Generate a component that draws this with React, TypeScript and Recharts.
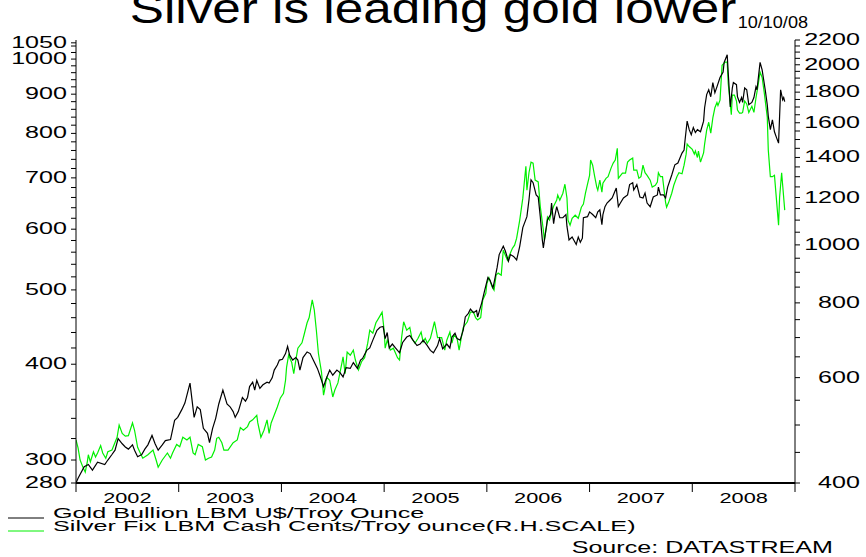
import { LineChart, Line, XAxis, YAxis } from "recharts";

// weekly-ish readings: [decimal year, value]
const goldFix: [number, number][] = [
  [2002.00,280],[2002.02,284],[2002.08,294],[2002.12,296],[2002.16,291],[2002.21,298],[2002.28,296],[2002.31,300],
  [2002.35,305],[2002.38,309],[2002.41,320],[2002.45,315],[2002.48,312],[2002.51,310],[2002.55,314],[2002.57,309],
  [2002.60,303],[2002.64,305],[2002.67,310],[2002.70,314],[2002.74,323],[2002.77,315],[2002.80,309],[2002.84,314],
  [2002.87,318],[2002.92,319],[2002.96,338],[2002.99,341],[2003.03,349],[2003.06,356],[2003.11,378],[2003.15,341],
  [2003.18,352],[2003.21,349],[2003.24,330],[2003.28,325],[2003.30,316],[2003.33,330],[2003.36,340],[2003.39,355],
  [2003.43,370],[2003.47,355],[2003.50,352],[2003.53,347],[2003.55,341],[2003.58,347],[2003.62,362],[2003.65,358],
  [2003.67,362],[2003.69,374],[2003.72,379],[2003.74,370],[2003.76,381],[2003.79,372],[2003.82,376],[2003.86,379],
  [2003.88,378],[2003.91,384],[2003.93,393],[2003.96,399],[2003.98,405],[2004.01,406],[2004.04,413],[2004.06,422],
  [2004.08,411],[2004.11,405],[2004.14,408],[2004.16,405],[2004.18,393],[2004.21,408],[2004.25,415],[2004.28,413],
  [2004.31,405],[2004.35,395],[2004.38,385],[2004.41,374],[2004.43,381],[2004.45,387],[2004.47,393],[2004.50,387],
  [2004.54,393],[2004.57,390],[2004.60,385],[2004.63,396],[2004.67,395],[2004.70,402],[2004.74,395],[2004.77,405],
  [2004.79,407],[2004.83,417],[2004.86,420],[2004.89,430],[2004.93,443],[2004.96,447],[2004.99,448],[2005.01,432],
  [2005.03,440],[2005.05,420],[2005.08,425],[2005.11,420],[2005.15,414],[2005.18,427],[2005.22,434],[2005.25,436],
  [2005.28,430],[2005.32,423],[2005.35,425],[2005.38,430],[2005.42,423],[2005.45,417],[2005.48,414],[2005.52,423],
  [2005.54,432],[2005.57,419],[2005.61,425],[2005.64,420],[2005.66,434],[2005.69,439],[2005.71,432],[2005.74,430],
  [2005.77,443],[2005.79,461],[2005.82,466],[2005.84,472],[2005.87,467],[2005.90,470],[2005.91,461],[2005.95,481],
  [2005.98,500],[2006.01,519],[2006.03,515],[2006.06,503],[2006.10,535],[2006.12,556],[2006.16,570],[2006.18,562],
  [2006.21,545],[2006.23,556],[2006.26,553],[2006.29,547],[2006.32,570],[2006.35,603],[2006.39,623],[2006.41,655],
  [2006.43,696],[2006.45,690],[2006.48,665],[2006.50,661],[2006.52,623],[2006.54,581],[2006.55,567],[2006.57,593],
  [2006.59,617],[2006.62,627],[2006.63,649],[2006.65,610],[2006.66,623],[2006.68,642],[2006.71,621],[2006.74,621],
  [2006.77,627],[2006.78,605],[2006.80,581],[2006.83,586],[2006.87,573],[2006.89,586],[2006.91,577],[2006.93,584],
  [2006.94,621],[2006.98,623],[2007.00,632],[2007.03,627],[2007.06,621],[2007.08,632],[2007.10,636],[2007.12,608],
  [2007.13,627],[2007.15,642],[2007.17,649],[2007.20,655],[2007.22,659],[2007.26,679],[2007.28,642],[2007.30,649],
  [2007.33,659],[2007.37,665],[2007.39,686],[2007.42,690],[2007.43,675],[2007.46,686],[2007.49,661],[2007.52,659],
  [2007.54,669],[2007.56,649],[2007.59,642],[2007.62,661],[2007.66,665],[2007.67,681],[2007.69,665],[2007.72,665],
  [2007.74,659],[2007.76,681],[2007.80,706],[2007.83,728],[2007.86,732],[2007.88,743],[2007.90,754],[2007.92,761],
  [2007.93,785],[2007.95,830],[2007.97,809],[2007.99,797],[2008.01,814],[2008.03,802],[2008.05,809],[2008.08,804],
  [2008.11,830],[2008.12,864],[2008.14,899],[2008.16,912],[2008.18,893],[2008.20,932],[2008.22,904],[2008.24,920],
  [2008.27,946],[2008.30,962],[2008.31,990],[2008.34,1013],[2008.35,959],[2008.37,866],[2008.39,917],[2008.40,932],
  [2008.43,926],[2008.44,893],[2008.46,878],[2008.48,891],[2008.49,878],[2008.51,917],[2008.53,912],[2008.55,872],
  [2008.58,878],[2008.60,891],[2008.62,920],[2008.63,912],[2008.66,990],[2008.68,968],[2008.69,949],[2008.71,912],
  [2008.73,872],[2008.74,842],[2008.76,809],[2008.78,833],[2008.80,804],[2008.82,790],[2008.84,777],[2008.86,912],
  [2008.88,885],[2008.89,891],[2008.90,880],
];

const silverFix: [number, number][] = [
  [2002.00,472],[2002.02,458],[2002.04,437],[2002.07,424],[2002.09,417],[2002.11,434],[2002.12,446],[2002.14,434],
  [2002.17,451],[2002.19,442],[2002.21,449],[2002.24,462],[2002.26,449],[2002.29,440],[2002.31,451],[2002.35,454],
  [2002.40,477],[2002.42,500],[2002.45,484],[2002.48,479],[2002.51,480],[2002.55,504],[2002.57,490],[2002.60,459],
  [2002.62,451],[2002.65,440],[2002.70,446],[2002.75,454],[2002.78,437],[2002.80,425],[2002.84,437],[2002.89,449],
  [2002.92,440],[2002.94,449],[2002.98,464],[2003.01,460],[2003.04,477],[2003.08,472],[2003.11,477],[2003.14,449],
  [2003.16,446],[2003.19,464],[2003.23,460],[2003.26,437],[2003.29,440],[2003.32,442],[2003.35,454],[2003.37,475],
  [2003.39,477],[2003.42,467],[2003.44,454],[2003.48,454],[2003.53,467],[2003.57,472],[2003.60,495],[2003.63,490],
  [2003.67,497],[2003.69,506],[2003.72,510],[2003.76,519],[2003.77,504],[2003.80,477],[2003.83,490],[2003.86,510],
  [2003.88,484],[2003.90,504],[2003.92,514],[2003.96,536],[2003.99,555],[2004.02,565],[2004.04,594],[2004.05,624],
  [2004.07,654],[2004.10,636],[2004.12,609],[2004.14,642],[2004.16,672],[2004.20,686],[2004.22,707],[2004.25,741],
  [2004.27,756],[2004.30,809],[2004.32,778],[2004.34,720],[2004.36,659],[2004.39,613],[2004.41,561],[2004.42,572],
  [2004.44,601],[2004.47,594],[2004.50,557],[2004.52,572],[2004.55,588],[2004.59,636],[2004.60,650],[2004.62,609],
  [2004.64,662],[2004.67,654],[2004.70,667],[2004.72,642],[2004.75,618],[2004.78,638],[2004.81,648],[2004.84,685],
  [2004.86,720],[2004.89,712],[2004.92,741],[2004.95,756],[2004.98,772],[2005.00,720],[2005.01,672],[2005.03,693],
  [2005.06,667],[2005.09,672],[2005.13,648],[2005.15,642],[2005.17,700],[2005.19,744],[2005.22,720],[2005.25,728],
  [2005.27,698],[2005.30,685],[2005.33,698],[2005.36,715],[2005.38,688],[2005.40,698],[2005.42,685],[2005.45,698],
  [2005.47,720],[2005.49,744],[2005.51,715],[2005.52,700],[2005.56,700],[2005.59,667],[2005.61,693],[2005.64,715],
  [2005.66,685],[2005.68,707],[2005.71,698],[2005.73,667],[2005.75,698],[2005.77,728],[2005.81,744],[2005.84,772],
  [2005.87,772],[2005.89,756],[2005.91,749],[2005.94,756],[2005.96,809],[2005.99,830],[2006.00,862],[2006.02,882],
  [2006.05,851],[2006.07,840],[2006.09,890],[2006.11,897],[2006.14,890],[2006.16,980],[2006.18,961],[2006.20,943],
  [2006.22,961],[2006.25,988],[2006.27,999],[2006.29,1026],[2006.32,1100],[2006.35,1197],[2006.37,1300],[2006.38,1353],
  [2006.39,1234],[2006.41,1320],[2006.43,1375],[2006.45,1370],[2006.47,1283],[2006.50,1274],[2006.52,1160],[2006.55,1058],
  [2006.56,1018],[2006.58,1071],[2006.59,1113],[2006.61,1100],[2006.63,1134],[2006.65,1160],[2006.68,1188],[2006.69,1211],
  [2006.71,1188],[2006.74,1220],[2006.76,1263],[2006.78,1197],[2006.79,1100],[2006.81,1079],[2006.83,1108],[2006.86,1121],
  [2006.89,1108],[2006.92,1156],[2006.94,1170],[2006.96,1220],[2006.98,1263],[2007.00,1307],[2007.01,1386],[2007.03,1359],
  [2007.05,1300],[2007.07,1249],[2007.08,1234],[2007.10,1283],[2007.12,1225],[2007.13,1268],[2007.16,1292],[2007.18,1300],
  [2007.21,1345],[2007.23,1370],[2007.25,1386],[2007.27,1450],[2007.28,1292],[2007.32,1318],[2007.35,1318],[2007.37,1375],
  [2007.39,1386],[2007.42,1397],[2007.43,1333],[2007.46,1333],[2007.48,1292],[2007.50,1300],[2007.52,1359],[2007.54,1320],
  [2007.56,1307],[2007.59,1283],[2007.61,1249],[2007.64,1258],[2007.66,1274],[2007.67,1320],[2007.69,1300],[2007.71,1300],
  [2007.72,1258],[2007.74,1178],[2007.75,1156],[2007.77,1178],[2007.80,1220],[2007.82,1258],[2007.85,1300],[2007.87,1320],
  [2007.90,1315],[2007.92,1359],[2007.94,1418],[2007.95,1474],[2007.97,1460],[2008.00,1444],[2008.02,1418],[2008.03,1435],
  [2008.05,1400],[2008.06,1435],[2008.08,1375],[2008.11,1425],[2008.12,1474],[2008.14,1555],[2008.16,1603],[2008.18,1537],
  [2008.20,1630],[2008.22,1695],[2008.24,1730],[2008.25,1710],[2008.27,1745],[2008.29,1996],[2008.32,2020],[2008.34,2020],
  [2008.35,1860],[2008.38,1650],[2008.39,1780],[2008.41,1780],[2008.43,1740],[2008.44,1680],[2008.46,1660],[2008.48,1660],
  [2008.49,1665],[2008.51,1740],[2008.53,1720],[2008.55,1665],[2008.58,1705],[2008.60,1665],[2008.62,1760],[2008.64,1845],
  [2008.66,1945],[2008.68,1905],[2008.70,1800],[2008.73,1635],[2008.74,1440],[2008.76,1300],[2008.78,1300],[2008.80,1307],
  [2008.82,1188],[2008.84,1079],[2008.85,1200],[2008.87,1320],[2008.88,1258],[2008.90,1143],
];

const yearBounds = [2002, 2003, 2004, 2005, 2006, 2007, 2008, 2009];
const yearLabels = ["2002", "2003", "2004", "2005", "2006", "2007", "2008"];
const goldLabels = [280, 300, 400, 500, 600, 700, 800, 900, 1000, 1050];
const goldMinor = [320, 340, 360, 380, 420, 440, 460, 480, 520, 540, 560, 580, 620, 640, 660, 680,
  720, 740, 760, 780, 820, 840, 860, 880, 920, 940, 960, 980, 1020, 1040];
const silverLabels = [400, 600, 800, 1000, 1200, 1400, 1600, 1800, 2000, 2200];
const silverMinor = [450, 500, 550, 650, 700, 750, 850, 900, 950, 1050, 1100, 1150, 1250, 1300, 1350,
  1450, 1500, 1550, 1650, 1700, 1750, 1850, 1900, 1950, 2050, 2100, 2150];

const W = 866;
const H = 557;
const LEFT_W = 76;
const RIGHT_W = 71;
const TOP = 40;
const BOTTOM_H = 74;
const STRETCH = 1.57;
const FONT = "'Liberation Sans', Arial, sans-serif";
const YEAR_PX = (W - LEFT_W - RIGHT_W) / (yearBounds.length - 1);

const gold = goldFix.map(([t, v]) => ({ t, v }));
const silver = silverFix.map(([t, v]) => ({ t, v }));

const LeftTick = ({ x, y, payload }: any) => {
  const major = goldLabels.includes(payload.value);
  return (
    <g>
      <line x1={x} x2={x - 5} y1={y} y2={y} stroke="#000" />
      {major && (
        <text transform={`translate(${x - 9},${y + 5}) scale(${STRETCH},1)`} textAnchor="end"
          fontSize={16} fontFamily={FONT} fill="#000">{payload.value}</text>
      )}
    </g>
  );
};

const RightTick = ({ x, y, payload }: any) => {
  const major = silverLabels.includes(payload.value);
  return (
    <g>
      <line x1={x} x2={x + 5} y1={y} y2={y} stroke="#000" />
      {major && (
        <text transform={`translate(${x + 65},${y + 5}) scale(${STRETCH},1)`} textAnchor="end"
          fontSize={16} fontFamily={FONT} fill="#000">{payload.value}</text>
      )}
    </g>
  );
};

const YearTick = ({ x, y, index }: any) => (
  <g>
    <line x1={x} x2={x} y1={y} y2={y + 9} stroke="#000" />
    {index < yearLabels.length && (
      <text transform={`translate(${x + YEAR_PX / 2},${y + 20}) scale(1.45,1)`} textAnchor="middle"
        fontSize={15} fontFamily={FONT} fill="#000">{yearLabels[index]}</text>
    )}
  </g>
);

const stretched = (x: number, y: number, s: number) => `translate(${x},${y}) scale(${s},1)`;

export default function App() {
  return (
    <div style={{ position: "absolute", left: 0, top: 0, width: W, height: H, background: "#fff" }}>
      <LineChart width={W} height={H} margin={{ top: TOP, right: 0, bottom: 0, left: 0 }}
        style={{ position: "absolute", left: 0, top: 0 }}>
        <XAxis xAxisId="yr" dataKey="t" type="number" domain={[2002, 2009]} allowDataOverflow
          ticks={yearBounds} interval={0} height={BOTTOM_H} tickSize={0} tickMargin={0}
          tick={YearTick} tickLine={false} axisLine={{ stroke: "#000", strokeWidth: 2 }} />
        <YAxis yAxisId="gold" orientation="left" width={LEFT_W} scale="log" domain={[280, 1059]}
          allowDataOverflow ticks={[...goldLabels, ...goldMinor]} interval={0} tickSize={0} tickMargin={0}
          tick={LeftTick} tickLine={false} axisLine={{ stroke: "#000" }} />
        <YAxis yAxisId="silver" orientation="right" width={RIGHT_W} scale="log" domain={[400, 2200]}
          allowDataOverflow ticks={[...silverLabels, ...silverMinor]} interval={0} tickSize={0} tickMargin={0}
          tick={RightTick} tickLine={false} axisLine={{ stroke: "#000" }} />
        <Line data={silver} xAxisId="yr" yAxisId="silver" dataKey="v" type="linear" stroke="#00f000"
          strokeWidth={1.2} dot={false} isAnimationActive={false} />
        <Line data={gold} xAxisId="yr" yAxisId="gold" dataKey="v" type="linear" stroke="#000"
          strokeWidth={1.2} dot={false} isAnimationActive={false} />
      </LineChart>
      <svg width={W} height={H} style={{ position: "absolute", left: 0, top: 0, pointerEvents: "none" }}
        fontFamily={FONT} fill="#000">
        <text transform={stretched(433, 23, 1.22)} textAnchor="middle" fontSize={42}>
          Silver is leading gold lower
        </text>
        <text transform={stretched(808, 28, 1.13)} textAnchor="end" fontSize={16}>10/10/08</text>
        <line x1={8} x2={44} y1={518} y2={518} stroke="#000" />
        <text transform={stretched(53, 518, 1.68)} fontSize={15}>Gold Bullion LBM U$/Troy Ounce</text>
        <line x1={8} x2={44} y1={531} y2={531} stroke="#00f000" />
        <text transform={stretched(53, 531, 1.68)} fontSize={15}>
          Silver Fix LBM Cash Cents/Troy ounce(R.H.SCALE)
        </text>
        <text transform={stretched(833, 553, STRETCH)} textAnchor="end" fontSize={16}>Source: DATASTREAM</text>
      </svg>
    </div>
  );
}
